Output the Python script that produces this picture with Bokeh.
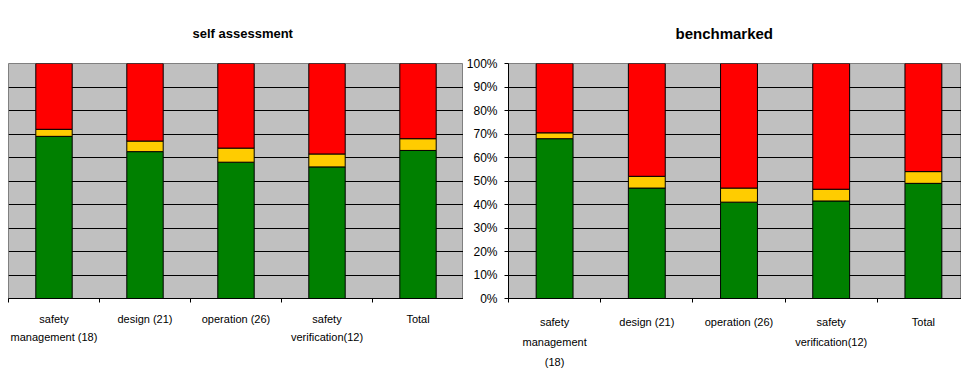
from bokeh.plotting import figure
from bokeh.models import ColumnDataSource, Range1d, FixedTicker, NumeralTickFormatter, Grid, Title
from bokeh.layouts import row
from bokeh.embed import file_html
from bokeh.resources import INLINE

# ---- data ----
categories = ["safety management (18)", "design (21)", "operation (26)",
              "safety verification(12)", "Total"]
labels_self = ["safety\nmanagement (18)", "design (21)", "operation (26)",
               "safety\nverification(12)", "Total"]
labels_bench = ["safety\nmanagement\n(18)", "design (21)", "operation (26)",
                "safety\nverification(12)", "Total"]

self_green = [69, 62.5, 58, 56, 63]
self_yellow = [3, 4.5, 6, 5.5, 5]
self_red = [28, 33, 36, 38.5, 32]

bench_green = [68, 47, 41, 41.5, 49]
bench_yellow = [2.5, 5, 6, 5, 5]
bench_red = [29.5, 48, 53, 53.5, 46]

y_ticks = [0, 0.1, 0.2, 0.3, 0.4, 0.5, 0.6, 0.7, 0.8, 0.9, 1.0]
colors = ["#008000", "#FFCC00", "#FF0000"]
FONT = "Liberation Sans"


def build(title, labels, green, yellow, red, width, mbl, mbr, x_end, ylabels,
          title_size, title_standoff, title_offset, label_standoff, line_h):
    n = len(categories)
    src = ColumnDataSource(dict(
        x=[i + 0.5 for i in range(n)],
        green=[v / 100 for v in green],
        yellow=[v / 100 for v in yellow],
        red=[v / 100 for v in red],
    ))
    p = figure(width=width, height=374, output_backend="svg", toolbar_location=None,
               x_range=Range1d(0, x_end), y_range=Range1d(0, 1),
               y_axis_location="left" if ylabels else None,
               min_border_left=mbl, min_border_right=mbr,
               min_border_top=63, min_border_bottom=76,
               background_fill_color="#C0C0C0", border_fill_color="white",
               outline_line_color="#808080")
    p.vbar_stack(["green", "yellow", "red"], x="x", width=0.4, source=src,
                 fill_color=colors, line_color="black", line_width=1)

    p.add_layout(Title(text=title, align="left", standoff=title_standoff,
                       offset=title_offset,
                       text_font=FONT, text_font_size=title_size,
                       text_font_style="bold", text_color="black"), "above")

    # y axis / grid
    if ylabels:
        ya = p.left[0]
        ya.ticker = FixedTicker(ticks=y_ticks)
        ya.formatter = NumeralTickFormatter(format="0%")
        ya.major_tick_in = 0
        ya.major_tick_out = 4
        ya.minor_tick_line_color = None
        ya.major_tick_line_color = "black"
        ya.axis_line_color = "black"
        ya.major_label_text_font = FONT
        ya.major_label_text_font_size = "12px"
        ya.major_label_text_color = "black"
        ya.major_label_standoff = 7
        p.ygrid.ticker = FixedTicker(ticks=y_ticks)
        p.ygrid.grid_line_color = "black"
    else:
        p.add_layout(Grid(dimension=1, ticker=FixedTicker(ticks=y_ticks),
                          grid_line_color="black"))
    p.xgrid.visible = False

    # x axis: category labels at centres, tick marks at boundaries
    xa = p.below[0]
    xa.ticker = FixedTicker(ticks=[i + 0.5 for i in range(n)],
                            minor_ticks=list(range(n + 1)))
    xa.major_label_overrides = {i + 0.5: labels[i] for i in range(n)}
    xa.major_tick_line_color = None
    xa.major_tick_in = 0
    xa.major_tick_out = 0
    xa.minor_tick_line_color = "black"
    xa.minor_tick_in = 0
    xa.minor_tick_out = 4
    xa.axis_line_color = "black"
    xa.major_label_text_font = FONT
    xa.major_label_text_font_size = "11px"
    xa.major_label_text_color = "black"
    xa.major_label_text_line_height = line_h
    xa.major_label_standoff = label_standoff
    return p


p1 = build("self assessment", labels_self, self_green, self_yellow, self_red,
           width=463, mbl=8, mbr=0, x_end=5, ylabels=False,
           title_size="13px", title_standoff=46, title_offset=184,
           label_standoff=10, line_h=1.58)
p2 = build("benchmarked", labels_bench, bench_green, bench_yellow, bench_red,
           width=961 - 463, mbl=45, mbr=0, x_end=(961 - 508) / 92.2, ylabels=True,
           title_size="15px", title_standoff=44, title_offset=167,
           label_standoff=13, line_h=1.67)

layout = row(p1, p2)
open("out.html", "w").write(file_html(layout, INLINE))
